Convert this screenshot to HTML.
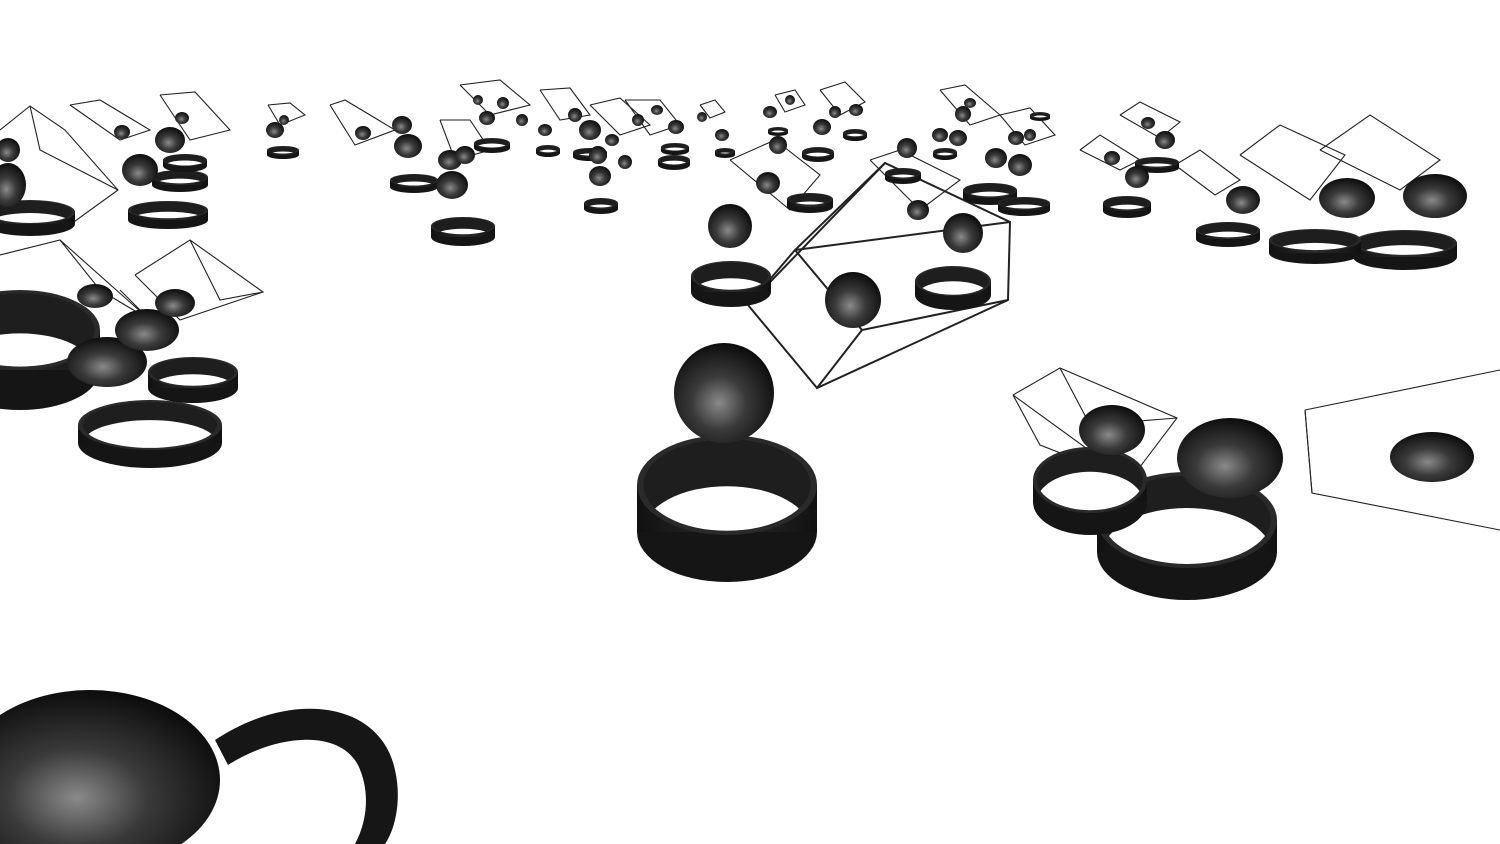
<!DOCTYPE html>
<html><head><meta charset="utf-8">
<style>
html,body{margin:0;padding:0;background:#fff;width:1500px;height:844px;overflow:hidden}
svg{display:block}
</style></head>
<body>
<svg id="scene" width="1500" height="844" viewBox="0 0 1500 844" xmlns="http://www.w3.org/2000/svg" style="overflow:hidden">
<defs>
<radialGradient id="sph" cx="0.45" cy="0.6" r="0.6">
<stop offset="0" stop-color="#8a8a8a"/><stop offset="0.45" stop-color="#3a3a3a"/><stop offset="1" stop-color="#0d0d0d"/>
</radialGradient>
<linearGradient id="band" x1="0" x2="1" y1="0" y2="0">
<stop offset="0" stop-color="#111"/><stop offset="0.5" stop-color="#2b2b2b"/><stop offset="1" stop-color="#111"/>
</linearGradient>
</defs>
<rect width="1500" height="844" fill="#fff"/>
<g id="far"></g>
<g id="near"></g>
</svg>
<script>
const boxes = [
 [748,305,817,388,1008,300,1010,222,885,163,748,305],
 [748,305,795,250,885,163],
 [795,250,1010,222],
 [817,388,862,330,1008,300],
 [862,330,795,250],
 [1013,395,1060,368,1177,418,1130,480,1013,395],
 [1013,395,1040,445,1130,480],
 [1060,368,1090,425,1177,418],
 [1305,410,1500,370],[1305,410,1312,493,1500,530],[1312,493,1305,410],
 [0,130,30,106,65,130,118,190,60,232,0,200],
 [30,106,40,150,118,190],
 [0,255,60,240,150,320,120,290],[60,240,100,290,150,320],
 [135,275,190,240,263,292,180,320,135,275],[190,240,220,300,263,292],
 [1240,155,1280,125,1345,155,1310,200,1240,155],
 [1320,150,1370,115,1440,160,1400,190,1320,150],
 [1080,150,1100,135,1140,160,1120,170,1080,150],
 [1120,115,1140,102,1180,122,1160,138,1120,115],
 [1175,165,1200,150,1240,180,1215,195,1175,165],
 [70,105,100,100,150,130,120,140,70,105],
 [160,95,195,92,230,130,190,140,160,95],
 [330,105,345,100,395,130,355,145,330,105],
 [268,105,290,103,305,115,280,125,268,105],
 [440,120,470,120,490,150,455,160,440,120],
 [460,85,500,80,530,105,490,115,460,85],
 [540,90,570,88,590,115,560,120,540,90],
 [590,105,620,98,650,125,620,135,590,105],
 [625,100,660,100,680,125,650,135,625,100],
 [730,160,775,140,820,175,790,210,730,160],
 [820,90,845,82,865,102,840,115,820,90],
 [870,160,900,150,960,180,920,210,870,160],
 [940,90,965,85,1000,115,970,125,940,90],
 [1000,115,1030,108,1055,135,1025,145,1000,115],
 [700,105,715,100,725,112,710,118,700,105],
 [775,95,795,90,805,105,785,112,775,95]
];
const spheres = [
 [724,393,50,50],[853,300,28,28],[963,233,20,20],[730,226,22,22],
 [1230,458,53,40],[1112,430,33,25],[1432,457,42,25],
 [90,780,130,90],
 [107,362,40,25],[147,330,32,21],[175,303,20,14],[95,296,18,12],
 [1435,196,32,22],[1347,198,28,20],[1243,200,17,14],[1137,177,12,11],[1165,140,10,9],[1112,158,8,7],[1148,123,7,6],
 [140,170,18,16],[170,140,15,13],[122,132,8,7],[182,118,7,6],[8,185,18,22],[8,150,12,12],
 [275,130,9,8],[284,120,5,5],[363,133,8,7],[402,125,10,9],[408,146,14,12],
 [452,185,16,14],[450,160,12,10],[465,155,10,9],[487,118,8,7],[503,103,6,6],[478,100,5,5],
 [522,120,6,6],[545,130,7,6],[575,115,7,7],[590,130,11,10],[600,176,11,10],[598,155,9,9],[625,162,7,7],[612,140,7,6],[638,120,6,6],[657,110,6,5],[676,127,8,7],
 [702,117,5,5],[722,135,7,6],[768,183,12,11],[778,145,9,9],[770,112,7,6],[790,100,5,5],[822,127,9,8],[835,112,6,6],[856,110,7,6],
 [907,148,10,10],[918,210,11,10],[940,135,8,7],[963,114,8,8],[970,103,6,5],[996,158,11,10],[1020,165,12,11],[1016,138,8,7],[1030,135,6,6],[958,138,9,8]
];
const rings = [
 [727,485,90,50,47],[1187,520,90,48,32],[1090,480,57,33,22],
 [953,281,38,15,14],[731,276,40,15,16],
 [150,425,72,25,18],[193,372,45,15,16],[20,330,80,40,40],
 [1405,243,52,13,14],[1315,240,46,11,13],[1228,230,32,8,9],[1127,203,24,7,8],
 [168,210,40,9,10],[180,177,28,7,8],[30,212,45,12,12],[185,160,22,6,6],
 [283,150,16,4,5],[414,180,24,6,7],[463,226,32,9,11],[492,143,18,5,5],[548,149,12,4,4],[601,203,17,5,6],[590,152,17,4,5],[674,160,16,5,5],[675,147,14,4,4],[725,151,10,3,4],[810,199,23,6,8],[818,152,16,5,5],[855,133,12,4,4],[903,173,18,5,6],[945,152,12,4,4],[990,190,27,7,8],[1024,203,26,6,7],[1040,115,10,3,3],[1157,162,22,5,6],[778,130,10,3,3]
];
const NS='http://www.w3.org/2000/svg';
const svg=document.getElementById('scene');
const defs=svg.querySelector('defs');
const far=document.getElementById('far'), near=document.getElementById('near');
function mk(tag,attrs,parent){const e=document.createElementNS(NS,tag);for(const k in attrs)e.setAttribute(k,attrs[k]);parent.appendChild(e);return e;}
boxes.forEach((b,i)=>{
 const pts=[];for(let j=0;j<b.length;j+=2)pts.push(b[j]+','+b[j+1]);
 const p=mk('polyline',{points:pts.join(' '),fill:'none',stroke:'#222','stroke-width':i<5?2:1.1},far);
 
 
});
rings.forEach((r,i)=>{
 const [cx,cy,rx,ry,h]=r;
 const g=mk('g',{},near);
 
 
 const t=Math.max(1.5,rx*0.07);
 const irx=rx-t, iry=Math.max(0.5,ry-t*ry/rx*1.2);
 mk('ellipse',{cx:cx,cy:cy+h,rx:rx,ry:ry,fill:'#151515'},g);
 mk('rect',{x:cx-rx,y:cy,width:2*rx,height:h,fill:'url(#band)'},g);
 mk('ellipse',{cx:cx,cy:cy,rx:rx,ry:ry,fill:'#2a2a2a'},g);
 mk('ellipse',{cx:cx,cy:cy,rx:irx,ry:iry,fill:'#1e1e1e'},g);
 const cp=mk('clipPath',{id:'rc'+i},defs);
 mk('ellipse',{cx:cx,cy:cy,rx:irx,ry:iry},cp);
 mk('ellipse',{cx:cx,cy:cy+h,rx:irx,ry:iry,fill:'#fff','clip-path':'url(#rc'+i+')'},g);
});
spheres.forEach(s=>{
 const e=mk('ellipse',{cx:s[0],cy:s[1],rx:s[2],ry:s[3],fill:'url(#sph)'},near);
 
 
});
const big=mk('path',{d:'M215,740 C290,690 380,700 395,770 C402,800 395,830 385,844 L355,844 C368,820 370,790 358,765 C338,728 275,735 228,765 Z',fill:'#161616'},near);


</script>
</body></html>
